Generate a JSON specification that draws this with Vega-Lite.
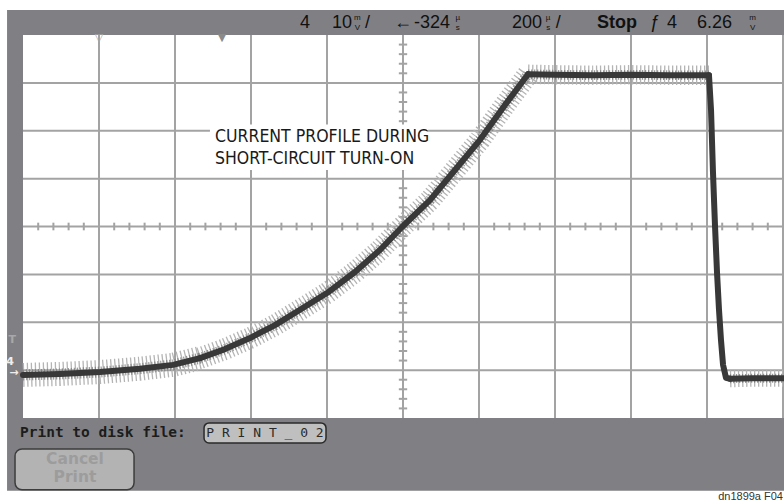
{
  "$schema": "https://vega.github.io/schema/vega-lite/v6.json",
  "width": 760,
  "height": 383,
  "autosize": {"type": "none"},
  "padding": {"left": 23, "top": 35, "right": 1, "bottom": 85},
  "background": "white",
  "config": {"view": {"stroke": null}},
  "resolve": {"scale": {"strokeWidth": "independent", "color": "independent"}},
  "datasets": {
    "trace": [
      {"x": 0, "y": -3.10, "part": "base"},
      {"x": 0.487, "y": -3.08, "part": "base"},
      {"x": 1.013, "y": -3.04, "part": "base"},
      {"x": 1.539, "y": -2.97, "part": "base"},
      {"x": 1.974, "y": -2.89, "part": "base"},
      {"x": 2.329, "y": -2.75, "part": "base"},
      {"x": 2.329, "y": -2.75, "part": "rise"},
      {"x": 2.658, "y": -2.56, "part": "rise"},
      {"x": 2.987, "y": -2.33, "part": "rise"},
      {"x": 3.316, "y": -2.06, "part": "rise"},
      {"x": 3.645, "y": -1.74, "part": "rise"},
      {"x": 4.0, "y": -1.39, "part": "rise"},
      {"x": 4.368, "y": -0.95, "part": "rise"},
      {"x": 4.697, "y": -0.49, "part": "rise"},
      {"x": 4.987, "y": -0.01, "part": "rise"},
      {"x": 5.355, "y": 0.55, "part": "rise"},
      {"x": 5.684, "y": 1.18, "part": "rise"},
      {"x": 6.013, "y": 1.81, "part": "rise"},
      {"x": 6.342, "y": 2.54, "part": "rise"},
      {"x": 6.645, "y": 3.18, "part": "rise"},
      {"x": 6.645, "y": 3.18, "part": "top"},
      {"x": 7.0, "y": 3.17, "part": "top"},
      {"x": 7.5, "y": 3.16, "part": "top"},
      {"x": 8.0, "y": 3.17, "part": "top"},
      {"x": 8.5, "y": 3.16, "part": "top"},
      {"x": 9.026, "y": 3.16, "part": "top"},
      {"x": 9.026, "y": 3.16, "part": "fall"},
      {"x": 9.053, "y": 2.43, "part": "fall"},
      {"x": 9.079, "y": 1.12, "part": "fall"},
      {"x": 9.105, "y": 0.03, "part": "fall"},
      {"x": 9.132, "y": -0.97, "part": "fall"},
      {"x": 9.158, "y": -1.74, "part": "fall"},
      {"x": 9.184, "y": -2.37, "part": "fall"},
      {"x": 9.211, "y": -2.89, "part": "fall"},
      {"x": 9.25, "y": -3.16, "part": "fall"},
      {"x": 9.303, "y": -3.18, "part": "fall"},
      {"x": 9.303, "y": -3.18, "part": "tail"},
      {"x": 9.6, "y": -3.17, "part": "tail"},
      {"x": 10.0, "y": -3.17, "part": "tail"}
    ],
    "vgrid": [{"x": 1}, {"x": 2}, {"x": 3}, {"x": 4}, {"x": 5}, {"x": 6}, {"x": 7}, {"x": 8}, {"x": 9}, {"x": 10}],
    "hgrid": [{"y": -3}, {"y": -2}, {"y": -1}, {"y": 0}, {"y": 1}, {"y": 2}, {"y": 3}],
    "xticks": [{"x":0.2},{"x":0.4},{"x":0.6},{"x":0.8},{"x":1.2},{"x":1.4},{"x":1.6},{"x":1.8},{"x":2.2},{"x":2.4},{"x":2.6},{"x":2.8},{"x":3.2},{"x":3.4},{"x":3.6},{"x":3.8},{"x":4.2},{"x":4.4},{"x":4.6},{"x":4.8},{"x":5.2},{"x":5.4},{"x":5.6},{"x":5.8},{"x":6.2},{"x":6.4},{"x":6.6},{"x":6.8},{"x":7.2},{"x":7.4},{"x":7.6},{"x":7.8},{"x":8.2},{"x":8.4},{"x":8.6},{"x":8.8},{"x":9.2},{"x":9.4},{"x":9.6},{"x":9.8}],
    "yticks": [{"y":-3.8},{"y":-3.6},{"y":-3.4},{"y":-3.2},{"y":-2.8},{"y":-2.6},{"y":-2.4},{"y":-2.2},{"y":-1.8},{"y":-1.6},{"y":-1.4},{"y":-1.2},{"y":-0.8},{"y":-0.6},{"y":-0.4},{"y":-0.2},{"y":0.2},{"y":0.4},{"y":0.6},{"y":0.8},{"y":1.2},{"y":1.4},{"y":1.6},{"y":1.8},{"y":2.2},{"y":2.4},{"y":2.6},{"y":2.8},{"y":3.2},{"y":3.4},{"y":3.6},{"y":3.8}],
    "header": [
      {"x": 3.645, "t": "4", "kind": "big"},
      {"x": 4.066, "t": "10", "kind": "big"},
      {"x": 4.50, "t": "/", "kind": "big"},
      {"x": 4.882, "t": "←", "kind": "big"},
      {"x": 5.145, "t": "-324", "kind": "big"},
      {"x": 6.434, "t": "200", "kind": "big"},
      {"x": 7.01, "t": "/", "kind": "big"},
      {"x": 7.553, "t": "Stop", "kind": "bold"},
      {"x": 8.25, "t": "ƒ", "kind": "big"},
      {"x": 8.474, "t": "4", "kind": "big"},
      {"x": 8.868, "t": "6.26", "kind": "big"}
    ],
    "units": [
      {"x": 4.40, "y": 4.36, "t": "m"},
      {"x": 4.40, "y": 4.14, "t": "V"},
      {"x": 5.72, "y": 4.36, "t": "µ"},
      {"x": 5.72, "y": 4.14, "t": "s"},
      {"x": 6.91, "y": 4.36, "t": "µ"},
      {"x": 6.91, "y": 4.14, "t": "s"},
      {"x": 9.60, "y": 4.36, "t": "m"},
      {"x": 9.60, "y": 4.14, "t": "V"}
    ]
  },
  "layer": [
    {
      "data": {"values": [{"x": -0.21, "x2": 10.2, "y": 4.52, "y2": -5.522}]},
      "mark": {"type": "rect", "color": "#808084"},
      "encoding": {
        "x": {"field": "x", "type": "quantitative", "scale": {"domain": [0, 10], "nice": false, "zero": false}, "axis": null},
        "x2": {"field": "x2"},
        "y": {"field": "y", "type": "quantitative", "scale": {"domain": [-4, 4], "nice": false, "zero": false}, "axis": null},
        "y2": {"field": "y2"}
      }
    },
    {
      "data": {"values": [{"x": 0, "x2": 10.03, "y": 4, "y2": -4}]},
      "mark": {"type": "rect", "color": "#ffffff"},
      "encoding": {
        "x": {"field": "x", "type": "quantitative", "scale": {"domain": [0, 10], "nice": false, "zero": false}, "axis": null},
        "x2": {"field": "x2"},
        "y": {"field": "y", "type": "quantitative", "scale": {"domain": [-4, 4], "nice": false, "zero": false}, "axis": null},
        "y2": {"field": "y2"}
      }
    },
    {
      "data": {"name": "vgrid"},
      "mark": {"type": "rule", "color": "#a3a3a3", "strokeWidth": 2},
      "encoding": {
        "x": {"field": "x", "type": "quantitative", "scale": {"domain": [0, 10], "nice": false, "zero": false}, "axis": null},
        "y": {"datum": -4, "type": "quantitative", "scale": {"domain": [-4, 4], "nice": false, "zero": false}, "axis": null},
        "y2": {"datum": 4}
      }
    },
    {
      "data": {"name": "hgrid"},
      "mark": {"type": "rule", "color": "#a3a3a3", "strokeWidth": 2},
      "encoding": {
        "y": {"field": "y", "type": "quantitative", "scale": {"domain": [-4, 4], "nice": false, "zero": false}, "axis": null},
        "x": {"datum": 0, "type": "quantitative", "scale": {"domain": [0, 10], "nice": false, "zero": false}, "axis": null},
        "x2": {"datum": 10.03}
      }
    },
    {
      "data": {"name": "xticks"},
      "mark": {"type": "rule", "color": "#a3a3a3", "strokeWidth": 2},
      "encoding": {
        "x": {"field": "x", "type": "quantitative", "scale": {"domain": [0, 10], "nice": false, "zero": false}, "axis": null},
        "y": {"datum": -0.08, "type": "quantitative", "scale": {"domain": [-4, 4], "nice": false, "zero": false}, "axis": null},
        "y2": {"datum": 0.08}
      }
    },
    {
      "data": {"name": "yticks"},
      "mark": {"type": "rule", "color": "#a3a3a3", "strokeWidth": 2},
      "encoding": {
        "y": {"field": "y", "type": "quantitative", "scale": {"domain": [-4, 4], "nice": false, "zero": false}, "axis": null},
        "x": {"datum": 4.945, "type": "quantitative", "scale": {"domain": [0, 10], "nice": false, "zero": false}, "axis": null},
        "x2": {"datum": 5.055}
      }
    },
    {
      "data": {"values": [{"x": 2.46, "x2": 5.33, "y": 2.13, "y2": 1.18}]},
      "mark": {"type": "rect", "color": "#ffffff"},
      "encoding": {
        "x": {"field": "x", "type": "quantitative", "scale": {"domain": [0, 10], "nice": false, "zero": false}, "axis": null},
        "x2": {"field": "x2"},
        "y": {"field": "y", "type": "quantitative", "scale": {"domain": [-4, 4], "nice": false, "zero": false}, "axis": null},
        "y2": {"field": "y2"}
      }
    },
    {
      "data": {"name": "trace"},
      "transform": [{"filter": "datum.part !== 'fall'"}],
      "mark": {"type": "line", "color": "#b4b4b4", "strokeDash": [1.3, 2.7], "strokeCap": "butt"},
      "encoding": {
        "x": {"field": "x", "type": "quantitative", "scale": {"domain": [0, 10], "nice": false, "zero": false}, "axis": null},
        "y": {"field": "y", "type": "quantitative", "scale": {"domain": [-4, 4], "nice": false, "zero": false}, "axis": null},
        "strokeWidth": {"field": "part", "type": "ordinal", "scale": {"domain": ["base", "rise", "top", "tail"], "range": [24, 17, 22, 22]}, "legend": null}
      }
    },
    {
      "data": {"name": "trace"},
      "transform": [{"filter": "datum.part !== 'fall'"}],
      "mark": {"type": "line", "color": "#7c7c7c", "strokeDash": [1.2, 1.8], "strokeCap": "butt", "opacity": 0.8},
      "encoding": {
        "x": {"field": "x", "type": "quantitative", "scale": {"domain": [0, 10], "nice": false, "zero": false}, "axis": null},
        "y": {"field": "y", "type": "quantitative", "scale": {"domain": [-4, 4], "nice": false, "zero": false}, "axis": null},
        "strokeWidth": {"field": "part", "type": "ordinal", "scale": {"domain": ["base", "rise", "top", "tail"], "range": [11, 9, 11, 11]}, "legend": null}
      }
    },
    {
      "data": {"name": "trace"},
      "mark": {"type": "line", "color": "#383838", "strokeJoin": "round", "strokeCap": "round"},
      "encoding": {
        "x": {"field": "x", "type": "quantitative", "scale": {"domain": [0, 10], "nice": false, "zero": false}, "axis": null},
        "y": {"field": "y", "type": "quantitative", "scale": {"domain": [-4, 4], "nice": false, "zero": false}, "axis": null},
        "strokeWidth": {"field": "part", "type": "ordinal", "scale": {"domain": ["base", "rise", "top", "fall", "tail"], "range": [6, 6, 6, 2.5, 6]}, "legend": null}
      }
    },
    {
      "data": {"values": [
        {"x": 2.526, "y": 1.868, "t": "CURRENT PROFILE DURING"},
        {"x": 2.526, "y": 1.409, "t": "SHORT-CIRCUIT TURN-ON"}
      ]},
      "mark": {"type": "text", "align": "left", "baseline": "middle", "fontSize": 17.5, "font": "Liberation Sans Narrow, DejaVu Sans Condensed, Liberation Sans, sans-serif", "color": "#1a1a1a"},
      "encoding": {
        "x": {"field": "x", "type": "quantitative", "scale": {"domain": [0, 10], "nice": false, "zero": false}, "axis": null},
        "y": {"field": "y", "type": "quantitative", "scale": {"domain": [-4, 4], "nice": false, "zero": false}, "axis": null},
        "text": {"field": "t"}
      }
    },
    {
      "data": {"name": "header"},
      "transform": [{"filter": "datum.kind === 'big'"}],
      "mark": {"type": "text", "align": "left", "baseline": "middle", "fontSize": 18, "font": "Liberation Sans, sans-serif", "color": "#111111"},
      "encoding": {
        "x": {"field": "x", "type": "quantitative", "scale": {"domain": [0, 10], "nice": false, "zero": false}, "axis": null},
        "y": {"datum": 4.25, "type": "quantitative", "scale": {"domain": [-4, 4], "nice": false, "zero": false}, "axis": null},
        "text": {"field": "t"}
      }
    },
    {
      "data": {"name": "header"},
      "transform": [{"filter": "datum.kind === 'bold'"}],
      "mark": {"type": "text", "align": "left", "baseline": "middle", "fontSize": 18, "fontWeight": "bold", "font": "Liberation Sans, sans-serif", "color": "#111111"},
      "encoding": {
        "x": {"field": "x", "type": "quantitative", "scale": {"domain": [0, 10], "nice": false, "zero": false}, "axis": null},
        "y": {"datum": 4.25, "type": "quantitative", "scale": {"domain": [-4, 4], "nice": false, "zero": false}, "axis": null},
        "text": {"field": "t"}
      }
    },
    {
      "data": {"name": "units"},
      "mark": {"type": "text", "align": "center", "baseline": "middle", "fontSize": 8, "font": "Liberation Sans, sans-serif", "color": "#111111"},
      "encoding": {
        "x": {"field": "x", "type": "quantitative", "scale": {"domain": [0, 10], "nice": false, "zero": false}, "axis": null},
        "y": {"field": "y", "type": "quantitative", "scale": {"domain": [-4, 4], "nice": false, "zero": false}, "axis": null},
        "text": {"field": "t"}
      }
    },
    {
      "data": {"values": [{"x": -0.04, "y": -4.311, "t": "Print to disk file:"}]},
      "mark": {"type": "text", "align": "left", "baseline": "middle", "fontSize": 14.5, "fontWeight": "bold", "font": "DejaVu Sans Mono, monospace", "color": "#1c1c1c"},
      "encoding": {
        "x": {"field": "x", "type": "quantitative", "scale": {"domain": [0, 10], "nice": false, "zero": false}, "axis": null},
        "y": {"field": "y", "type": "quantitative", "scale": {"domain": [-4, 4], "nice": false, "zero": false}, "axis": null},
        "text": {"field": "t"}
      }
    },
    {
      "data": {"values": [{"x": 2.382, "x2": 3.987, "y": -4.102, "y2": -4.52}]},
      "mark": {"type": "rect", "color": "#bfbfbf", "stroke": "#2a2a2a", "strokeWidth": 1.5, "cornerRadius": 5},
      "encoding": {
        "x": {"field": "x", "type": "quantitative", "scale": {"domain": [0, 10], "nice": false, "zero": false}, "axis": null},
        "x2": {"field": "x2"},
        "y": {"field": "y", "type": "quantitative", "scale": {"domain": [-4, 4], "nice": false, "zero": false}, "axis": null},
        "y2": {"field": "y2"}
      }
    },
    {
      "data": {"values": [{"x": 3.184, "y": -4.311, "t": "P R I N T _ 0 2"}]},
      "mark": {"type": "text", "align": "center", "baseline": "middle", "fontSize": 13, "font": "DejaVu Sans Mono, monospace", "color": "#2a2a2a"},
      "encoding": {
        "x": {"field": "x", "type": "quantitative", "scale": {"domain": [0, 10], "nice": false, "zero": false}, "axis": null},
        "y": {"field": "y", "type": "quantitative", "scale": {"domain": [-4, 4], "nice": false, "zero": false}, "axis": null},
        "text": {"field": "t"}
      }
    },
    {
      "data": {"values": [{"x": -0.105, "x2": 1.461, "y": -4.645, "y2": -5.501}]},
      "mark": {"type": "rect", "color": "#b3b3b3", "stroke": "#3c3c3c", "strokeWidth": 1.5, "cornerRadius": 7},
      "encoding": {
        "x": {"field": "x", "type": "quantitative", "scale": {"domain": [0, 10], "nice": false, "zero": false}, "axis": null},
        "x2": {"field": "x2"},
        "y": {"field": "y", "type": "quantitative", "scale": {"domain": [-4, 4], "nice": false, "zero": false}, "axis": null},
        "y2": {"field": "y2"}
      }
    },
    {
      "data": {"values": [{"x": 0.684, "y": -4.854, "t": "Cancel"}, {"x": 0.684, "y": -5.23, "t": "Print"}]},
      "mark": {"type": "text", "align": "center", "baseline": "middle", "fontSize": 15.5, "fontWeight": "bold", "font": "DejaVu Sans, sans-serif", "color": "#9c9c9c"},
      "encoding": {
        "x": {"field": "x", "type": "quantitative", "scale": {"domain": [0, 10], "nice": false, "zero": false}, "axis": null},
        "y": {"field": "y", "type": "quantitative", "scale": {"domain": [-4, 4], "nice": false, "zero": false}, "axis": null},
        "text": {"field": "t"}
      }
    },
    {
      "data": {"values": [{"x": 10.0, "y": -5.66, "t": "dn1899a F04"}]},
      "mark": {"type": "text", "align": "right", "baseline": "middle", "fontSize": 11, "font": "Liberation Sans, sans-serif", "color": "#333333"},
      "encoding": {
        "x": {"field": "x", "type": "quantitative", "scale": {"domain": [0, 10], "nice": false, "zero": false}, "axis": null},
        "y": {"field": "y", "type": "quantitative", "scale": {"domain": [-4, 4], "nice": false, "zero": false}, "axis": null},
        "text": {"field": "t"}
      }
    },
    {
      "data": {"values": [
        {"x": -0.14, "y": -2.37, "t": "T", "c": "a"},
        {"x": -0.17, "y": -2.83, "t": "4", "c": "b"},
        {"x": -0.12, "y": -3.07, "t": "→", "c": "b"},
        {"x": 1.0, "y": 3.94, "t": "▽", "c": "a"},
        {"x": 2.618, "y": 3.94, "t": "▼", "c": "c"}
      ]},
      "mark": {"type": "text", "align": "center", "baseline": "middle", "fontSize": 11, "fontWeight": "bold", "font": "DejaVu Sans, sans-serif"},
      "encoding": {
        "x": {"field": "x", "type": "quantitative", "scale": {"domain": [0, 10], "nice": false, "zero": false}, "axis": null},
        "y": {"field": "y", "type": "quantitative", "scale": {"domain": [-4, 4], "nice": false, "zero": false}, "axis": null},
        "text": {"field": "t"},
        "color": {"field": "c", "type": "nominal", "scale": {"domain": ["a", "b", "c"], "range": ["#a8a8a8", "#eeeeee", "#8a8a8a"]}, "legend": null}
      }
    }
  ]
}
